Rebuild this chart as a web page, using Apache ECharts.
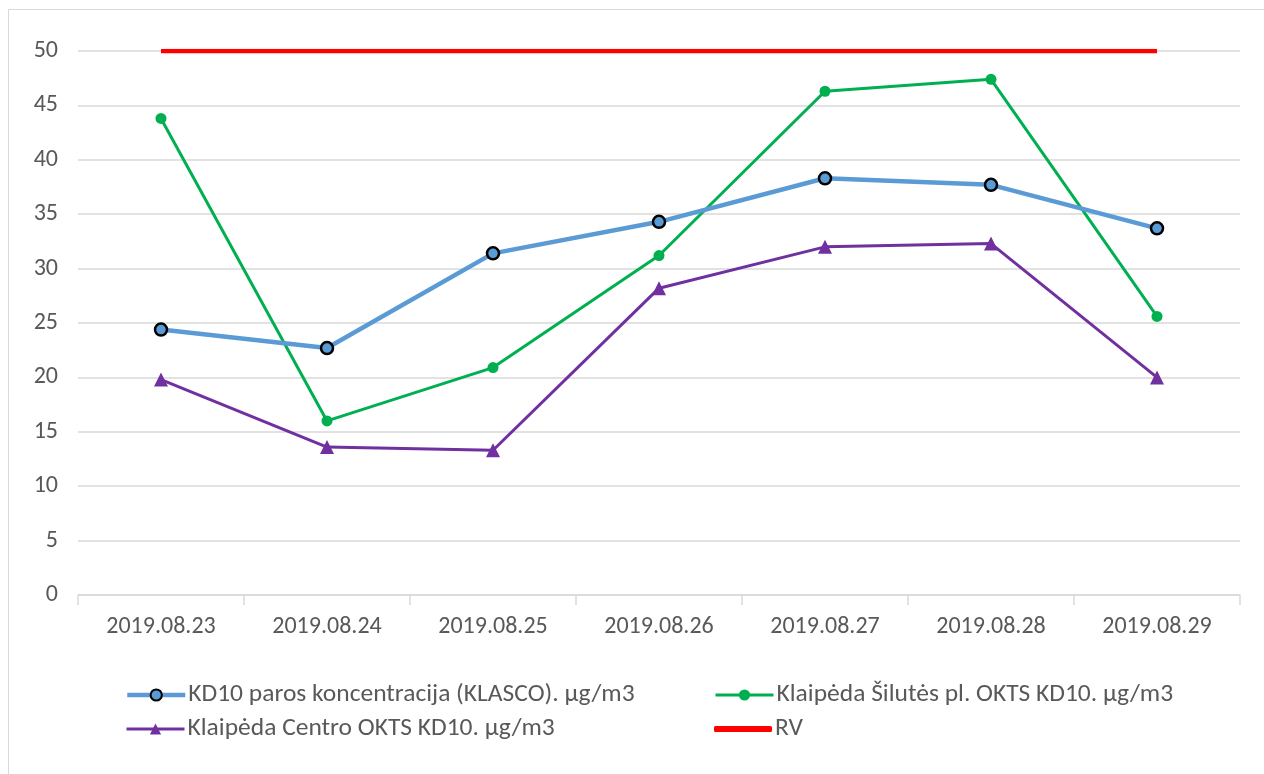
<!DOCTYPE html>
<html><head><meta charset="utf-8">
<script src="https://cdn.jsdelivr.net/npm/echarts@6/dist/echarts.min.js"></script>
<style>html,body{margin:0;padding:0;background:#fff}#c{width:1264px;height:774px}</style>
</head><body><div id="c"></div>
<script>
const categories = ['2019.08.23','2019.08.24','2019.08.25','2019.08.26','2019.08.27','2019.08.28','2019.08.29'];
const klasco = [24.4, 22.7, 31.4, 34.3, 38.3, 37.7, 33.7];
const silutes = [43.8, 16.0, 20.9, 31.2, 46.3, 47.4, 25.6];
const centro = [19.8, 13.6, 13.3, 28.2, 32.0, 32.3, 20.0];
const rv = [50, 50, 50, 50, 50, 50, 50];
const names = ['KD10 paros koncentracija (KLASCO). µg/m3','Klaipėda Šilutės pl. OKTS KD10. µg/m3','Klaipėda Centro OKTS KD10. µg/m3','RV'];
const font = 'Carlito, Calibri, "Open Sans", "Liberation Sans", sans-serif';
const txt = {color:'#595959', fontSize:24, fontFamily:font};
function lg(item, left, top, lw, ih){
  return {data:[item], left:left, top:top, itemWidth:58, itemHeight:ih||14, itemGap:0,
    lineStyle:{width:lw},
    textStyle:Object.assign({}, txt, {fontSize:25.5, padding:[0,0,0,-2]}), padding:0};
}
const chart = echarts.init(document.getElementById('c'));
chart.setOption({
  animation:false,
  graphic:[{type:'rect', shape:{x:8.5,y:9.5,width:1400,height:900}, style:{fill:'none', stroke:'#d9d9d9', lineWidth:1}, silent:true}],
  grid:{left:78, right:24, top:51, bottom:179},
  legend:[lg(names[0],125,682,4.5), lg(names[1],714,682,3), lg(names[2],125,716,3), lg({name:names[3], icon:'roundRect'},714,716,4.5,6)],
  xAxis:{type:'category', data:categories, boundaryGap:true,
    axisLine:{lineStyle:{color:'#d9d9d9', width:1.5}},
    axisTick:{show:true, length:10, lineStyle:{color:'#d9d9d9', width:1.5}},
    axisLabel:Object.assign({}, txt, {margin:20})},
  yAxis:{type:'value', min:0, max:50, interval:5,
    axisLine:{show:false}, axisTick:{show:false},
    splitLine:{lineStyle:{color:'#d9d9d9', width:1.5}},
    axisLabel:Object.assign({}, txt, {margin:20})},
  series:[
    {name:names[0], type:'line', data:klasco, symbol:'circle', symbolSize:12,
      lineStyle:{color:'#5b9bd5', width:4.5}, itemStyle:{color:'#5b9bd5', borderColor:'#000', borderWidth:2.5}, z:4},
    {name:names[1], type:'line', data:silutes, symbol:'circle', symbolSize:11,
      lineStyle:{color:'#00b050', width:3}, itemStyle:{color:'#00b050', borderColor:'#00b050', borderWidth:0}, z:3},
    {name:names[2], type:'line', data:centro, symbol:'triangle', symbolSize:14,
      lineStyle:{color:'#7030a0', width:3}, itemStyle:{color:'#7030a0'}, z:2},
    {name:names[3], type:'line', data:rv, symbol:'none',
      lineStyle:{color:'#ff0000', width:4.5}, itemStyle:{color:'#ff0000'}, z:1}
  ]
});
</script></body></html>
